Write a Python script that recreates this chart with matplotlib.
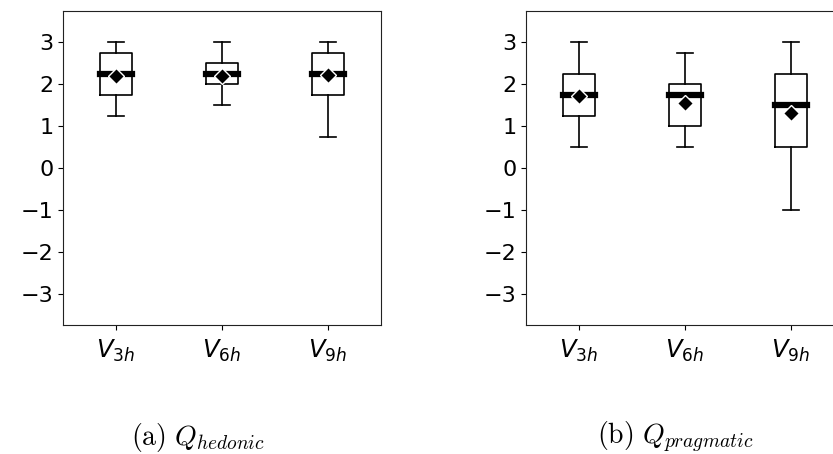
import matplotlib
matplotlib.use("Agg")
import matplotlib.pyplot as plt

# box statistics
versions = [r"$V_{3h}$", r"$V_{6h}$", r"$V_{9h}$"]

hed_low = [1.25, 1.5, 0.75]
hed_q1 = [1.75, 2.0, 1.75]
hed_med = [2.25, 2.25, 2.25]
hed_q3 = [2.75, 2.5, 2.75]
hed_high = [3.0, 3.0, 3.0]
hed_mean = [2.19, 2.19, 2.21]

prag_low = [0.5, 0.5, -1.0]
prag_q1 = [1.25, 1.0, 0.5]
prag_med = [1.75, 1.75, 1.5]
prag_q3 = [2.25, 2.0, 2.25]
prag_high = [3.0, 2.75, 3.0]
prag_mean = [1.72, 1.56, 1.31]

captions = [r"$\mathrm{(a)}\ Q_{hedonic}$", r"$\mathrm{(b)}\ Q_{pragmatic}$"]
yticks = [-3, -2, -1, 0, 1, 2, 3]


def make_stats(low, q1, med, q3, high, mean):
    stats = []
    for i in range(len(low)):
        stats.append(dict(whislo=low[i], q1=q1[i], med=med[i], q3=q3[i],
                          whishi=high[i], mean=mean[i], fliers=[]))
    return stats


fig = plt.figure(figsize=(8.33, 4.54), dpi=100)
W, H = 833, 454
ax_w, ax_h = 318, 314
axes = [fig.add_axes([63 / W, 1 - 325 / H, ax_w / W, ax_h / H]),
        fig.add_axes([526 / W, 1 - 325 / H, ax_w / W, ax_h / H])]

data = [make_stats(hed_low, hed_q1, hed_med, hed_q3, hed_high, hed_mean),
        make_stats(prag_low, prag_q1, prag_med, prag_q3, prag_high, prag_mean)]
cap_x = [198 / W, 675 / W]

for ax, stats, cap, cx in zip(axes, data, captions, cap_x):
    ax.bxp(stats, positions=[1, 2, 3], widths=0.31, showmeans=True,
           showfliers=False,
           boxprops=dict(color="black", linewidth=1.2),
           whiskerprops=dict(color="black", linewidth=1.2),
           capprops=dict(color="black", linewidth=1.2),
           medianprops=dict(color="black", linewidth=4.5,
                            solid_capstyle="projecting"),
           meanprops=dict(marker="D", markerfacecolor="black",
                          markeredgecolor="white", markersize=8))
    ax.set_xlim(0.5, 3.5)
    ax.set_ylim(-3.75, 3.75)
    ax.set_yticks(yticks)
    ax.set_xticks([1, 2, 3])
    ax.set_xticklabels(versions)
    ax.tick_params(axis="y", labelsize=16)
    ax.tick_params(axis="x", labelsize=17.5, pad=6)
    for sp in ax.spines.values():
        sp.set_color("#222222")
    # subfigure caption
    fig.text(cx, 1 - 437 / H, cap, ha="center", va="center", fontsize=20,
             math_fontfamily="cm")

fig.savefig("out.png", dpi=100)
